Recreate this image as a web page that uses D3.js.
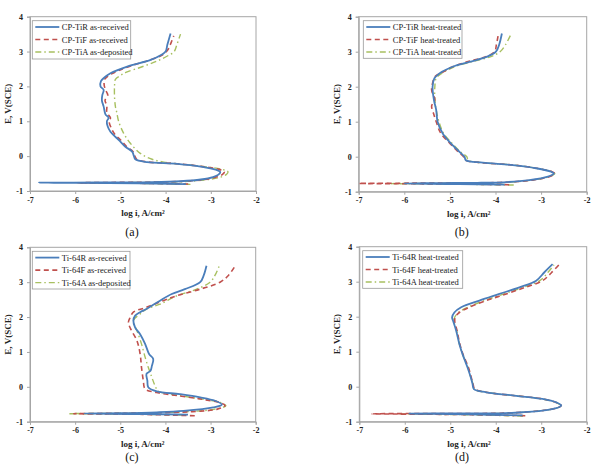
<!DOCTYPE html>
<html><head><meta charset="utf-8">
<script src="https://cdn.jsdelivr.net/npm/d3@7"></script>
<style>body{margin:0;background:#fff}svg{display:block}</style>
</head><body>
<svg id="c" width="592" height="467"></svg>
<script>
// ---------- data ----------
const xTicks = [-7, -6, -5, -4, -3, -2];
const yTicks = [-1, 0, 1, 2, 3, 4];
const xTitle = "log i, A/cm\u00B2";
const yTitle = "E, V(SCE)";
const captions = ["(a)", "(b)", "(c)", "(d)"];

const legendA = ["CP-TiR as-received", "CP-TiF as-received", "CP-TiA as-deposited"];
const legendB = ["CP-TiR heat-treated", "CP-TiF heat-treated", "CP-TiA heat-treated"];
const legendC = ["Ti-64R as-received", "Ti-64F as-received", "Ti-64A as-deposited"];
const legendD = ["Ti-64R heat-treated", "Ti-64F heat-treated", "Ti-64A heat-treated"];

// [log i, E]
const aR = [[-3.55,-0.80],[-4.6,-0.78],[-6.8,-0.762],[-5.5,-0.755],[-4.3,-0.745],[-3.67,-0.72],[-3.22,-0.67],[-2.95,-0.60],[-2.83,-0.53],[-2.79,-0.46],[-2.89,-0.39],[-3.22,-0.30],[-3.74,-0.22],[-4.41,-0.17],[-4.67,-0.09],[-4.70,0.0],[-4.74,0.13],[-4.89,0.27],[-5.04,0.47],[-5.15,0.6],[-5.22,0.7],[-5.28,0.85],[-5.30,1.0],[-5.26,1.1],[-5.33,1.2],[-5.37,1.42],[-5.41,1.6],[-5.40,1.75],[-5.37,1.9],[-5.44,2.0],[-5.43,2.15],[-5.36,2.25],[-5.22,2.38],[-4.85,2.57],[-4.33,2.76],[-4.1,2.9],[-4.0,3.0],[-3.96,3.2],[-3.89,3.52]];
const aF = [[-3.5,-0.80],[-4.5,-0.78],[-5.95,-0.765],[-5.2,-0.755],[-4.2,-0.745],[-3.6,-0.72],[-3.15,-0.67],[-2.88,-0.60],[-2.74,-0.52],[-2.70,-0.45],[-2.82,-0.38],[-3.18,-0.30],[-3.72,-0.22],[-4.38,-0.17],[-4.64,-0.09],[-4.68,0.0],[-4.72,0.13],[-4.86,0.27],[-5.0,0.47],[-5.12,0.62],[-5.2,0.8],[-5.25,1.0],[-5.22,1.1],[-5.3,1.25],[-5.3,1.45],[-5.34,1.6],[-5.28,1.75],[-5.33,1.9],[-5.36,2.05],[-5.35,2.2],[-5.25,2.32],[-5.05,2.45],[-4.75,2.6],[-4.3,2.78],[-4.05,2.92],[-3.95,3.05],[-3.88,3.25],[-3.82,3.45]];
const aA = [[-3.45,-0.81],[-4.4,-0.785],[-5.9,-0.77],[-5.0,-0.76],[-4.1,-0.75],[-3.5,-0.725],[-3.05,-0.67],[-2.78,-0.60],[-2.65,-0.52],[-2.62,-0.45],[-2.75,-0.38],[-3.15,-0.30],[-3.75,-0.22],[-4.04,-0.17],[-4.30,-0.09],[-4.56,0.08],[-4.78,0.37],[-4.93,0.66],[-5.04,1.0],[-5.08,1.25],[-5.11,1.42],[-5.13,1.7],[-5.13,2.0],[-5.11,2.2],[-5.0,2.31],[-4.88,2.4],[-4.55,2.55],[-4.2,2.72],[-3.95,2.88],[-3.81,3.0],[-3.75,3.2],[-3.67,3.5]];

const bR = [[-3.8,-0.80],[-4.8,-0.78],[-6.0,-0.765],[-5.2,-0.755],[-4.4,-0.745],[-3.99,-0.74],[-3.26,-0.67],[-2.85,-0.57],[-2.72,-0.48],[-2.78,-0.43],[-3.11,-0.33],[-3.62,-0.24],[-4.28,-0.17],[-4.65,-0.10],[-4.68,0.0],[-4.79,0.14],[-4.98,0.38],[-5.16,0.67],[-5.27,1.0],[-5.3,1.33],[-5.35,1.62],[-5.38,2.0],[-5.34,2.24],[-5.23,2.38],[-4.94,2.57],[-4.57,2.71],[-4.2,2.85],[-3.99,3.0],[-3.92,3.2],[-3.86,3.52]];
const bF = [[-3.7,-0.80],[-5.0,-0.78],[-7.0,-0.765],[-5.8,-0.755],[-4.5,-0.745],[-3.9,-0.735],[-3.2,-0.67],[-2.82,-0.57],[-2.70,-0.48],[-2.76,-0.43],[-3.1,-0.33],[-3.6,-0.24],[-4.3,-0.17],[-4.66,-0.10],[-4.7,0.0],[-4.82,0.14],[-5.0,0.38],[-5.2,0.67],[-5.3,1.0],[-5.35,1.2],[-5.4,1.45],[-5.33,1.62],[-5.4,1.9],[-5.38,2.1],[-5.32,2.3],[-5.15,2.42],[-4.98,2.55],[-4.6,2.72],[-4.2,2.86],[-4.02,3.0],[-3.98,3.2],[-3.94,3.48]];
const bA = [[-3.6,-0.81],[-4.9,-0.785],[-6.3,-0.77],[-5.4,-0.76],[-4.4,-0.75],[-3.85,-0.74],[-3.2,-0.67],[-2.82,-0.57],[-2.70,-0.48],[-2.76,-0.43],[-3.1,-0.33],[-3.6,-0.24],[-4.3,-0.17],[-4.6,-0.10],[-4.63,0.0],[-4.77,0.14],[-4.95,0.38],[-5.14,0.67],[-5.24,1.0],[-5.3,1.33],[-5.33,1.62],[-5.33,2.0],[-5.3,2.24],[-5.18,2.38],[-4.9,2.57],[-4.5,2.72],[-4.1,2.86],[-3.9,3.0],[-3.78,3.2],[-3.66,3.5]];

const cR = [[-3.5,-0.80],[-4.5,-0.78],[-5.8,-0.765],[-5.0,-0.755],[-4.19,-0.73],[-3.6,-0.69],[-2.94,-0.59],[-2.75,-0.51],[-2.90,-0.40],[-3.23,-0.30],[-3.68,-0.21],[-4.19,-0.13],[-4.38,-0.01],[-4.40,0.18],[-4.42,0.37],[-4.33,0.46],[-4.30,0.6],[-4.27,0.8],[-4.35,0.92],[-4.38,0.99],[-4.45,1.23],[-4.56,1.51],[-4.67,1.7],[-4.71,1.9],[-4.67,2.04],[-4.56,2.14],[-4.42,2.23],[-4.12,2.47],[-3.86,2.66],[-3.57,2.8],[-3.23,3.0],[-3.15,3.2],[-3.09,3.47]];
const cF = [[-3.35,-0.83],[-4.5,-0.79],[-6.03,-0.77],[-5.2,-0.76],[-4.2,-0.745],[-3.4,-0.71],[-2.85,-0.64],[-2.68,-0.54],[-2.80,-0.45],[-3.18,-0.36],[-3.75,-0.25],[-4.2,-0.16],[-4.45,-0.06],[-4.49,0.18],[-4.53,0.56],[-4.56,0.94],[-4.63,1.32],[-4.77,1.66],[-4.82,1.85],[-4.78,1.99],[-4.71,2.14],[-4.42,2.28],[-4.05,2.47],[-3.75,2.61],[-3.23,2.8],[-2.79,3.0],[-2.6,3.2],[-2.44,3.5]];
const cA = [[-3.6,-0.81],[-4.7,-0.785],[-6.15,-0.77],[-5.3,-0.76],[-4.3,-0.745],[-3.5,-0.71],[-2.9,-0.64],[-2.66,-0.54],[-2.78,-0.45],[-3.15,-0.36],[-3.7,-0.25],[-4.1,-0.16],[-4.17,-0.11],[-4.23,0.03],[-4.30,0.27],[-4.38,0.56],[-4.45,0.85],[-4.53,1.23],[-4.63,1.61],[-4.71,1.9],[-4.56,2.09],[-4.42,2.23],[-4.12,2.37],[-3.75,2.61],[-3.31,2.8],[-3.01,3.0],[-2.9,3.2],[-2.80,3.49]];

const dR = [[-3.41,-0.82],[-4.6,-0.79],[-5.9,-0.77],[-5.0,-0.765],[-3.9,-0.76],[-3.41,-0.73],[-2.85,-0.66],[-2.6,-0.58],[-2.56,-0.54],[-2.67,-0.45],[-2.97,-0.35],[-3.55,-0.26],[-4.21,-0.16],[-4.48,-0.07],[-4.51,0.08],[-4.55,0.27],[-4.62,0.55],[-4.73,0.93],[-4.80,1.22],[-4.87,1.6],[-4.94,1.89],[-4.96,1.98],[-4.91,2.12],[-4.76,2.27],[-4.36,2.46],[-3.92,2.65],[-3.48,2.84],[-3.11,3.03],[-2.93,3.27],[-2.75,3.5]];
const dF = [[-3.35,-0.83],[-4.8,-0.795],[-6.72,-0.775],[-5.6,-0.765],[-4.0,-0.76],[-3.41,-0.73],[-2.85,-0.66],[-2.6,-0.58],[-2.56,-0.54],[-2.67,-0.45],[-2.97,-0.35],[-3.55,-0.26],[-4.21,-0.16],[-4.46,-0.07],[-4.5,0.08],[-4.54,0.27],[-4.6,0.55],[-4.72,0.93],[-4.79,1.22],[-4.85,1.6],[-4.9,1.85],[-4.89,1.99],[-4.80,2.12],[-4.58,2.27],[-4.21,2.46],[-3.77,2.65],[-3.35,2.84],[-2.97,3.03],[-2.78,3.25],[-2.6,3.5]];
const dA = [[-3.4,-0.84],[-4.7,-0.8],[-6.1,-0.78],[-5.3,-0.77],[-4.0,-0.765],[-3.41,-0.735],[-2.85,-0.66],[-2.6,-0.58],[-2.57,-0.54],[-2.68,-0.45],[-2.98,-0.35],[-3.56,-0.26],[-4.22,-0.16],[-4.47,-0.07],[-4.5,0.08],[-4.55,0.27],[-4.61,0.55],[-4.73,0.93],[-4.8,1.22],[-4.86,1.6],[-4.92,1.88],[-4.9,1.99],[-4.82,2.12],[-4.62,2.27],[-4.25,2.46],[-3.82,2.65],[-3.4,2.84],[-3.03,3.03],[-2.85,3.27],[-2.72,3.48]];

// ---------- layout ----------
const panels = [
  {x0:30, x1:256, y0:16.7, y1:191, series:[aR,aF,aA], legend:legendA, cap:captions[0], capY:236, lg:{x:32.3,y:20.7,w:98.4,h:38.3}},
  {x0:358.7, x1:586.7, y0:16.7, y1:191.7, series:[bR,bF,bA], legend:legendB, cap:captions[1], capY:236, lg:{x:363.3,y:20.7,w:98.7,h:37.6}},
  {x0:30, x1:255.7, y0:247.3, y1:421.7, series:[cR,cF,cA], legend:legendC, cap:captions[2], capY:461, lg:{x:32.3,y:251.3,w:97.7,h:37.7}},
  {x0:359.3, x1:586.7, y0:246.7, y1:421.7, series:[dR,dF,dA], legend:legendD, cap:captions[3], capY:461, lg:{x:362.7,y:250.7,w:100,h:37.6}}
];
const styles = [
  {color:"#4a7ebb", width:1.8, dash:null},
  {color:"#c0504d", width:1.6, dash:"5,3.5"},
  {color:"#a8c060", width:1.4, dash:"6,3,1.5,3"}
];
const serif = "'Liberation Serif','Times New Roman',serif";

const svg = d3.select("#c");

panels.forEach(p => {
  const x = d3.scaleLinear().domain([-7, -2]).range([p.x0, p.x1]);
  const y = d3.scaleLinear().domain([-1, 4]).range([p.y1, p.y0]);
  const g = svg.append("g");

  // frame
  g.append("rect").attr("x", p.x0).attr("y", p.y0)
    .attr("width", p.x1 - p.x0).attr("height", p.y1 - p.y0)
    .attr("fill", "none").attr("stroke", "#a6a6a6").attr("stroke-width", 1);

  // axes
  const xa = g.append("g").attr("transform", `translate(0,${p.y1})`)
    .call(d3.axisBottom(x).tickValues(xTicks).tickSize(3).tickPadding(3).tickFormat(d3.format("d")));
  const ya = g.append("g").attr("transform", `translate(${p.x0},0)`)
    .call(d3.axisLeft(y).tickValues(yTicks).tickSize(3).tickPadding(4).tickFormat(d3.format("d")));
  [xa, ya].forEach(a => {
    a.select(".domain").attr("stroke", "#a6a6a6");
    a.selectAll(".tick line").attr("stroke", "#a6a6a6");
    a.selectAll(".tick text").attr("font-family", serif).attr("font-size", 8)
      .attr("font-weight", "bold").attr("fill", "#222");
  });
  xa.selectAll(".tick text").text(d => d < 0 ? "-" + Math.abs(d) : d);
  ya.selectAll(".tick text").text(d => d < 0 ? "-" + Math.abs(d) : d);

  // titles
  g.append("text").attr("x", (p.x0 + p.x1) / 2 + (p.x0 > 300 ? -4 : 0)).attr("y", p.y1 + 25)
    .attr("text-anchor", "middle").attr("font-family", serif).attr("font-size", 9)
    .attr("font-weight", "bold").attr("fill", "#222").text(xTitle);
  g.append("text")
    .attr("transform", `translate(${p.x0 - 19},${(p.y0 + p.y1) / 2}) rotate(-90)`)
    .attr("text-anchor", "middle").attr("font-family", serif).attr("font-size", 9)
    .attr("font-weight", "bold").attr("fill", "#222").text(yTitle);

  // curves
  const line = d3.line().x(d => x(d[0])).y(d => y(d[1])).curve(d3.curveCatmullRom.alpha(0.5));
  const order = [2, 1, 0];
  order.forEach(i => {
    const s = styles[i];
    g.append("path").datum(p.series[i]).attr("d", line)
      .attr("fill", "none").attr("stroke", s.color).attr("stroke-width", s.width)
      .attr("stroke-dasharray", s.dash).attr("stroke-linejoin", "round");
  });

  // legend
  g.append("rect").attr("x", p.lg.x).attr("y", p.lg.y).attr("width", p.lg.w).attr("height", p.lg.h)
    .attr("fill", "#fff").attr("stroke", "#999").attr("stroke-width", 0.8);
  p.legend.forEach((t, i) => {
    const ly = p.lg.y + 6.3 + i * 12.5;
    const s = styles[i];
    g.append("line").attr("x1", p.lg.x + 3).attr("x2", p.lg.x + 27).attr("y1", ly).attr("y2", ly)
      .attr("stroke", s.color).attr("stroke-width", s.width).attr("stroke-dasharray", s.dash);
    g.append("text").attr("x", p.lg.x + 29.5).attr("y", ly + 3)
      .attr("font-family", serif).attr("font-size", 8.5).attr("fill", "#222").text(t);
  });

  // caption
  g.append("text").attr("x", (p.x0 + p.x1) / 2 - 11).attr("y", p.capY)
    .attr("text-anchor", "middle").attr("font-family", serif).attr("font-size", 12)
    .attr("fill", "#111").text(p.cap);
});
</script>
</body></html>
